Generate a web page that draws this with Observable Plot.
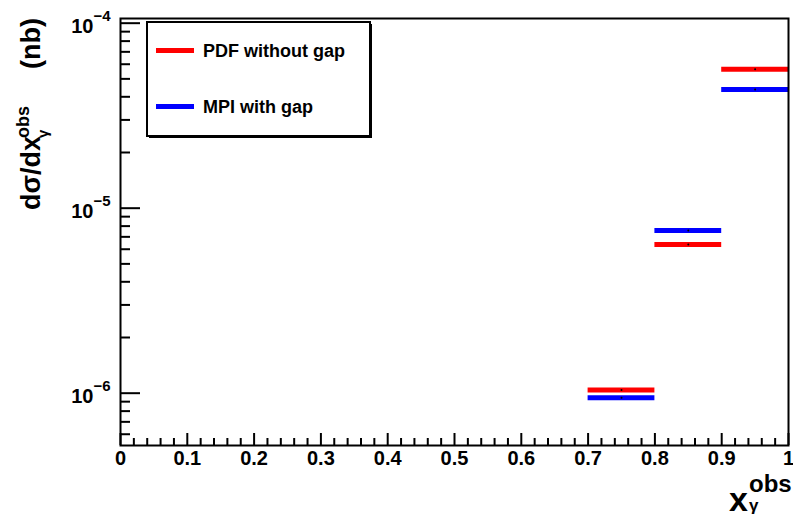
<!DOCTYPE html>
<html>
<head>
<meta charset="utf-8">
<script src="https://cdn.jsdelivr.net/npm/d3@7"></script>
<script src="https://cdn.jsdelivr.net/npm/@observablehq/plot@0.6"></script>
<style>
  html, body { margin: 0; padding: 0; background: white; }
  #chart svg { display: block; }
</style>
</head>
<body>
<div id="chart"></div>
<script>
// ---- data ----
const binLow = [0.7, 0.8, 0.9];
const binHigh = [0.8, 0.9, 1.0];
const pdfWithoutGap = [1.04e-6, 6.37e-6, 5.63e-5];
const mpiWithGap = [9.44e-7, 7.58e-6, 4.38e-5];

const seriesNames = ["PDF without gap", "MPI with gap"];
const seriesColors = ["#ff0000", "#0000ff"];

const xMajor = [0, 0.1, 0.2, 0.3, 0.4, 0.5, 0.6, 0.7, 0.8, 0.9, 1];
const xMajorLabels = ["0", "0.1", "0.2", "0.3", "0.4", "0.5", "0.6", "0.7", "0.8", "0.9", "1"];
const xMinor = d3.range(0, 50).map(i => i * 0.02).filter((d, i) => i % 5 !== 0);

const yMajor = [1e-6, 1e-5, 1e-4];
const yMajorBase = ["10", "10", "10"];
const yMajorExp = ["\u22126", "\u22125", "\u22124"];
const yMinor = [6e-7, 7e-7, 8e-7, 9e-7,
  2e-6, 3e-6, 4e-6, 5e-6, 6e-6, 7e-6, 8e-6, 9e-6,
  2e-5, 3e-5, 4e-5, 5e-5, 6e-5, 7e-5, 8e-5, 9e-5];

// ---- table ----
const rows = [];
binLow.forEach((lo, i) => {
  rows.push({series: seriesNames[0], lo, hi: binHigh[i], v: pdfWithoutGap[i]});
  rows.push({series: seriesNames[1], lo, hi: binHigh[i], v: mpiWithGap[i]});
});

const font = "'Liberation Sans', Arial, Helvetica, sans-serif";
const blank = () => "";

const chart = Plot.plot({
  width: 793,
  height: 519,
  marginLeft: 120,
  marginRight: 5,
  marginTop: 18,
  marginBottom: 74,
  style: {fontFamily: font, fontWeight: "bold", background: "white", color: "black"},
  x: {domain: [0, 1]},
  y: {type: "log", domain: [5.215e-7, 1.06e-4]},
  color: {domain: seriesNames, range: seriesColors},
  marks: [
    Plot.axisX(xMajor, {tickSize: -12, tickFormat: blank, strokeWidth: 2, label: null}),
    Plot.axisX(xMinor, {tickSize: -7, tickFormat: blank, strokeWidth: 2, label: null}),
    Plot.axisY(yMajor, {tickSize: -20, tickFormat: blank, strokeWidth: 2, label: null}),
    Plot.axisY(yMinor, {tickSize: -10, tickFormat: blank, strokeWidth: 2, label: null}),
    Plot.text(xMajor, {x: d => d, frameAnchor: "bottom", text: (d, i) => xMajorLabels[i],
      dy: 13, lineAnchor: "middle", fontSize: 20, fontWeight: "bold", fill: "black"}),
    Plot.text(yMajor, {y: d => d, frameAnchor: "left", text: (d, i) => yMajorBase[i],
      textAnchor: "end", dx: -27, dy: 3, fontSize: 20, fontWeight: "bold", fill: "black"}),
    Plot.text(yMajor, {y: d => d, frameAnchor: "left", text: (d, i) => yMajorExp[i],
      textAnchor: "start", dx: -27, dy: -7, fontSize: 15, fontWeight: "bold", fill: "black"}),
    Plot.ruleY(rows, {y: "v", x1: "lo", x2: "hi", stroke: "series", strokeWidth: 5}),
    Plot.dot(rows, {x: d => (d.lo + d.hi) / 2, y: "v", r: 1, fill: "black", stroke: null}),
    Plot.frame({stroke: "black", strokeWidth: 2})
  ]
});

document.getElementById("chart").appendChild(chart);

// ---- labels and legend ----
const svg = d3.select(chart);
const ns = svg.append("g").attr("font-family", font).attr("font-weight", "bold")
  .attr("fill", "black").attr("text-anchor", "start");

// y-axis title (rotated)
const yl = ns.append("g").attr("transform", "translate(40,210) rotate(-90)");
yl.append("text").attr("x", 0).attr("y", 0).attr("font-size", 27).text("d\u03c3/dx");
yl.append("text").attr("x", 72).attr("y", -11).attr("font-size", 18).text("obs");
yl.append("text").attr("x", 72).attr("y", 8).attr("font-size", 15).text("\u03b3");
yl.append("text").attr("x", 141).attr("y", 0).attr("font-size", 27).text("(nb)");

// x-axis title
ns.append("text").attr("x", 729).attr("y", 511).attr("font-size", 34).text("x");
ns.append("text").attr("x", 749).attr("y", 492).attr("font-size", 24).text("obs");
ns.append("text").attr("x", 749).attr("y", 511).attr("font-size", 17).text("\u03b3");

// legend
const lg = svg.append("g").attr("text-anchor", "start");
lg.append("rect").attr("x", 149).attr("y", 24).attr("width", 223).attr("height", 114).attr("fill", "black");
lg.append("rect").attr("x", 147).attr("y", 22).attr("width", 223).attr("height", 114)
  .attr("fill", "white").attr("stroke", "black").attr("stroke-width", 2);
const legendY = [50.5, 106.5];
seriesNames.forEach((name, i) => {
  lg.append("line").attr("x1", 156).attr("x2", 194).attr("y1", legendY[i]).attr("y2", legendY[i])
    .attr("stroke", seriesColors[i]).attr("stroke-width", 5);
  lg.append("text").attr("x", 203).attr("y", legendY[i]).attr("dy", "0.35em")
    .attr("font-family", font).attr("font-weight", "bold").attr("font-size", 18)
    .attr("fill", "black").text(name);
});
</script>
</body>
</html>
